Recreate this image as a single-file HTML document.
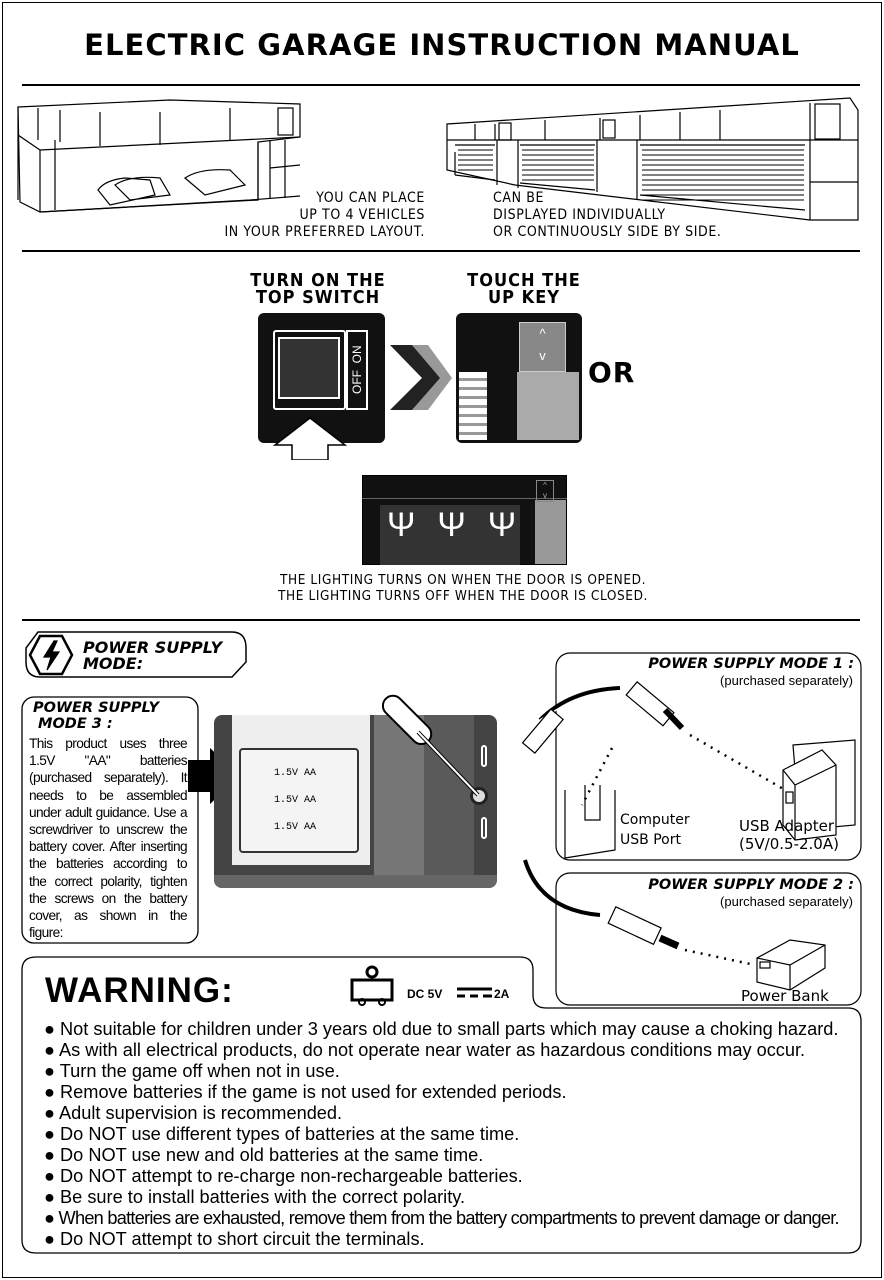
<!DOCTYPE html>
<html><head><meta charset="utf-8"><style>
*{margin:0;padding:0;box-sizing:border-box}
body{width:884px;height:1280px;background:#fff;position:relative;overflow:hidden;font-family:"Liberation Sans",sans-serif;color:#000}
.a{position:absolute}
.t{font-family:"DejaVu Sans","Liberation Sans",sans-serif;font-weight:bold;letter-spacing:1px}
.it{font-style:italic;font-weight:bold;font-family:"DejaVu Sans",sans-serif}
.cap{font-family:"DejaVu Sans Condensed","DejaVu Sans",sans-serif;font-size:14px;line-height:17px;letter-spacing:.6px}
.bl{font-size:18.2px;line-height:21px;white-space:nowrap}
</style></head><body>
<div class="a" style="left:2px;top:2px;width:880px;height:1276px;border:1px solid #000"></div>
<div class="a t" style="left:0;width:884px;top:28px;text-align:center;font-size:29px;letter-spacing:1.05px">ELECTRIC GARAGE INSTRUCTION MANUAL</div>
<div class="a" style="left:22px;top:84px;width:838px;height:2px;background:#000"></div>
<div class="a" style="left:22px;top:250px;width:838px;height:2px;background:#000"></div>
<div class="a" style="left:22px;top:619px;width:838px;height:2px;background:#000"></div>

<svg class="a" style="left:0;top:0" width="884" height="1280" fill="none" stroke="#000" stroke-width="1.2">
<path d="M18 107 L170 100 L300 104 L300 137 L258 142 L258 200 L40 212 L20 202 Z"/>
<path d="M18 107 L18 135 L40 150 L300 137 M40 150 L40 212 M18 135 L18 200 M55 140 L55 210 M258 142 L258 200 M270 140 L270 198 M285 140 L285 198 M270 168 L300 165"/>
<path d="M60 110 L60 142 M100 112 L100 146 M160 112 L160 145 M230 108 L230 141 M38 108 L38 140"/>
<rect x="278" y="108" width="15" height="27"/>
<path d="M98 190 Q105 180 125 178 L150 180 L155 195 L110 205 Z M115 185 Q130 175 160 178 L170 195 L130 200 Z M185 178 Q200 168 230 170 L245 185 L205 195 Z"/>
<path d="M40 212 L250 200 L300 196"/>
<path d="M447 124 L850 98 L858 110 L858 220 L810 220 L515 185 L447 170 Z"/>
<path d="M447 140 L858 140 M455 152 L455 175 M475 124 L475 140 M495 124 L495 140 M545 120 L545 140 M600 118 L600 140 M640 115 L640 140 M680 112 L680 140 M720 110 L720 140 M810 103 L810 220 M810 182 L858 182"/>
<rect x="499" y="123" width="12" height="17"/><rect x="603" y="120" width="12" height="18"/><rect x="815" y="104" width="25" height="35"/>
<path d="M455 145 L495 145 M455 175 L495 180 M520 145 L595 145 M520 183 L595 190 M640 145 L805 145 M640 195 L805 210" />
<g stroke-width="1">
<path d="M458 150h35M458 155h35M458 160h35M458 165h35M458 170h35M522 150h72M522 155h72M522 160h72M522 165h72M522 170h72M522 175h72M522 180h72M642 150h162M642 155h162M642 160h162M642 165h162M642 170h162M642 175h162M642 180h162M642 185h162M642 190h162M642 195h162M642 200h162"/>
</g>
<path d="M497 140 L497 185 M518 140 L518 188 M597 140 L597 192 M637 140 L637 200"/>
<path d="M390 345 L412 345 L445 378 L412 410 L390 410 L422 378 Z" fill="#222" stroke="none"/>
<path d="M412 345 L428 345 L452 378 L428 410 L412 410 L440 378 Z" fill="#999" stroke="none"/>
<path d="M38 632 L232 632 Q246 632 246 648 L246 662 L232 677 L40 677 Q26 677 26 662 L26 648 Z" stroke-width="1.5"/>
<path d="M40 636 L62 636 L72 655 L62 674 L40 674 L30 655 Z" stroke-width="2.5"/>
<path d="M54 641 L44 657 L51 657 L47 670 L59 652 L52 652 L57 641 Z" fill="#000"/>
<rect x="22" y="697" width="176" height="246" rx="12" stroke-width="1.3"/>
<rect x="556" y="653" width="305" height="207" rx="14"/>
<rect x="556" y="873" width="305" height="132" rx="14"/>
<path d="M36 957 L520 957 Q533 957 533 970 L533 995 Q533 1008 546 1008 L848 1008 Q861 1008 861 1021 L861 1240 Q861 1253 848 1253 L36 1253 Q22 1253 22 1240 L22 970 Q22 957 36 957 Z" stroke-width="1.3"/>
<path d="M188 760 L210 760 L210 748 L240 776 L210 804 L210 792 L188 792 Z" fill="#000" stroke="none"/>
<path d="M540 720 Q570 690 620 688" stroke-width="4"/>
<path d="M540 720 Q575 695 625 690" stroke="#fff" stroke-width="1.5"/>
<rect x="-30" y="-8" width="44" height="16" transform="translate(548 725) rotate(-50)" fill="#fff"/>
<rect x="0" y="-8" width="48" height="17" transform="translate(632 688) rotate(40)" fill="#fff"/>
<path d="M665 710 L682 728" stroke-width="6"/>
<path d="M690 735 L785 790 M612 748 L582 805" stroke-width="2.5" stroke-dasharray="2 6"/>
<path d="M793 745 L855 740 L855 825 L800 830 Z" />
<path d="M783 770 L822 750 L836 765 L836 835 L795 840 L783 825 Z" fill="#fff"/>
<path d="M783 770 L795 785 L836 765 M795 785 L795 840"/>
<rect x="786" y="792" width="7" height="11"/>
<path d="M565 790 L565 858 L615 850 L615 790 M585 785 L585 820 L600 820 L600 785"/>
<path d="M525 860 Q540 910 600 915" stroke-width="4"/>
<rect x="0" y="-9" width="50" height="18" transform="translate(612 915) rotate(25)" fill="#fff"/>
<path d="M660 938 L678 946" stroke-width="7"/>
<path d="M685 950 L755 965" stroke-width="2.5" stroke-dasharray="2 6"/>
<path d="M757 958 L790 940 L825 945 L825 968 L790 990 L757 982 Z" fill="#fff"/>
<path d="M757 958 L790 965 L825 945 M790 965 L790 990"/>
<rect x="760" y="962" width="10" height="6"/>
<path d="M352 980 L392 980 L392 1000 L352 1000 Z" stroke-width="3"/>
<circle cx="372" cy="972" r="5" stroke-width="3"/>
<circle cx="362" cy="1002" r="3" stroke-width="2"/><circle cx="382" cy="1002" r="3" stroke-width="2"/>
<path d="M457 989 h35" stroke-width="3"/><path d="M457 996 h8 M470 996 h8 M483 996 h9" stroke-width="3"/>
</svg>

<div class="a cap" style="left:150px;width:275px;top:190px;text-align:right">YOU CAN PLACE<br>UP TO 4 VEHICLES<br>IN YOUR PREFERRED LAYOUT.</div>
<div class="a cap" style="left:493px;top:190px">CAN BE<br>DISPLAYED INDIVIDUALLY<br>OR CONTINUOUSLY SIDE BY SIDE.</div>

<div class="a cap" style="left:218px;width:200px;top:272px;text-align:center;font-size:18px;line-height:17px;font-weight:bold;letter-spacing:1px">TURN ON THE<br>TOP SWITCH</div>
<div class="a cap" style="left:424px;width:200px;top:272px;text-align:center;font-size:18px;line-height:17px;font-weight:bold;letter-spacing:1px">TOUCH THE<br>UP KEY</div>

<div class="a" style="left:258px;top:313px;width:127px;height:130px;background:#111;border-radius:6px"></div>
<div class="a" style="left:273px;top:330px;width:73px;height:80px;border:2px solid #fff;border-radius:3px"></div>
<div class="a" style="left:278px;top:337px;width:62px;height:62px;background:#333;border:2px solid #fff"></div>
<div class="a" style="left:346px;top:330px;width:22px;height:80px;border:2px solid #fff;color:#fff;font-size:12px;writing-mode:vertical-rl;transform:rotate(180deg);text-align:center;line-height:18px">OFF&nbsp;&nbsp;ON</div>
<svg class="a" style="left:270px;top:415px" width="80" height="45"><path d="M40 3 L75 30 L58 30 L58 45 L22 45 L22 30 L5 30 Z" fill="#fff" stroke="#000" stroke-width="1.5"/></svg>
<div class="a" style="left:456px;top:313px;width:126px;height:130px;background:#111;border-radius:6px"></div>
<div class="a" style="left:459px;top:372px;width:28px;height:68px;background:repeating-linear-gradient(#fff 0 6px,#999 6px 9px)"></div>
<div class="a" style="left:517px;top:372px;width:62px;height:68px;background:#aaa"></div>
<div class="a" style="left:519px;top:322px;width:47px;height:50px;background:#888;border:1px solid #ccc;color:#fff;text-align:center;font-size:13px;line-height:22px">^<br>v</div>
<div class="a t" style="left:588px;top:356px;font-size:28px">OR</div>
<div class="a" style="left:362px;top:475px;width:205px;height:90px;background:#111;border:1px solid #000"></div>
<div class="a" style="left:362px;top:498px;width:205px;height:1px;background:#666"></div>
<div class="a" style="left:380px;top:505px;width:140px;height:60px;background:#333"></div>
<div class="a" style="left:535px;top:500px;width:31px;height:64px;background:#999"></div>
<div class="a" style="left:387px;top:505px;font-size:34px;color:#fff;letter-spacing:22px;line-height:40px">ΨΨΨ</div>
<div class="a" style="left:536px;top:480px;width:18px;height:22px;border:1px solid #888;color:#aaa;font-size:8px;text-align:center;line-height:10px">^<br>v</div>
<div class="a cap" style="left:0;width:926px;top:572px;text-align:center;font-size:13.5px;line-height:16px">THE LIGHTING TURNS ON WHEN THE DOOR IS OPENED.<br>THE LIGHTING TURNS OFF WHEN THE DOOR IS CLOSED.</div>

<div class="a it" style="left:83px;top:640px;font-size:16px;line-height:16px">POWER SUPPLY<br>MODE:</div>
<div class="a it" style="left:33px;top:700px;font-size:14.5px;line-height:16px">POWER SUPPLY<br>&nbsp;MODE 3 :</div>
<div class="a" style="left:29px;top:735px;width:158px;font-size:13.7px;line-height:17.2px;text-align:justify;letter-spacing:-.6px">This product uses three 1.5V "AA" batteries (purchased separately). It needs to be assembled under adult guidance. Use a screwdriver to unscrew the battery cover. After inserting the batteries according to the correct polarity, tighten the screws on the battery cover, as shown in the figure:</div>

<div class="a" style="left:214px;top:715px;width:283px;height:173px;background:#444;border-radius:8px;overflow:hidden">
 <div class="a" style="left:18px;top:0;width:138px;height:150px;background:#eee"></div>
 <div class="a" style="left:160px;top:0;width:50px;height:173px;background:#777"></div>
 <div class="a" style="left:210px;top:0;width:50px;height:173px;background:#5a5a5a"></div>
 <div class="a" style="left:0;top:160px;width:283px;height:13px;background:#666"></div>
 <div class="a" style="left:25px;top:33px;width:120px;height:105px;border:2px solid #333;border-radius:4px;background:#f4f4f4"></div>
 <div class="a" style="left:60px;top:45px;font-family:'Liberation Mono',monospace;font-size:10px;line-height:27px">1.5V AA<br>1.5V AA<br>1.5V AA</div>
 <div class="a" style="left:267px;top:30px;width:6px;height:22px;border:2px solid #fff;border-radius:3px"></div>
 <div class="a" style="left:267px;top:102px;width:6px;height:22px;border:2px solid #fff;border-radius:3px"></div>
 <div class="a" style="left:256px;top:72px;width:18px;height:18px;border-radius:50%;background:#ddd;border:3px solid #222"></div>
</div>
<svg class="a" style="left:360px;top:680px" width="120" height="130"><rect x="-18" y="-8" width="60" height="20" rx="10" transform="translate(40 30) rotate(45)" fill="#fff" stroke="#000" stroke-width="2"/><path d="M58 52 L118 115" stroke="#000" stroke-width="4"/><path d="M58 52 L118 115" stroke="#fff" stroke-width="2"/></svg>

<div class="a it" style="left:560px;top:656px;width:294px;text-align:right;font-size:14.5px">POWER SUPPLY MODE 1 :</div>
<div class="a" style="left:560px;top:673px;width:293px;text-align:right;font-size:13px">(purchased separately)</div>
<div class="a" style="left:620px;top:810px;font-family:'DejaVu Sans',sans-serif;font-size:14px;line-height:20px">Computer<br>USB Port</div>
<div class="a" style="left:739px;top:817px;font-family:'DejaVu Sans',sans-serif;font-size:15px;line-height:18px">USB Adapter<br>(5V/0.5-2.0A)</div>
<div class="a it" style="left:560px;top:877px;width:294px;text-align:right;font-size:14.5px">POWER SUPPLY MODE 2 :</div>
<div class="a" style="left:560px;top:894px;width:293px;text-align:right;font-size:13px">(purchased separately)</div>
<div class="a" style="left:741px;top:987px;font-family:'DejaVu Sans',sans-serif;font-size:15px">Power Bank</div>

<div class="a" style="left:45px;top:971px;font-size:35px;font-weight:bold;letter-spacing:1px">WARNING:</div>
<div class="a" style="left:407px;top:987px;font-size:12px;font-weight:bold">DC 5V</div>
<div class="a" style="left:494px;top:987px;font-size:12px;font-weight:bold">2A</div>

<div class="a bl" style="left:44px;top:1019px">● Not suitable for children under 3 years old due to small parts which may cause a choking hazard.<br>● As with all electrical products, do not operate near water as hazardous conditions may occur.<br>● Turn the game off when not in use.<br>● Remove batteries if the game is not used for extended periods.<br>● Adult supervision is recommended.<br>● Do NOT use different types of batteries at the same time.<br>● Do NOT use new and old batteries at the same time.<br>● Do NOT attempt to re-charge non-rechargeable batteries.<br>● Be sure to install batteries with the correct polarity.<br><span style="letter-spacing:-.75px">● When batteries are exhausted, remove them from the battery compartments to prevent damage or danger.</span><br>● Do NOT attempt to short circuit the terminals.</div>
</body></html>
